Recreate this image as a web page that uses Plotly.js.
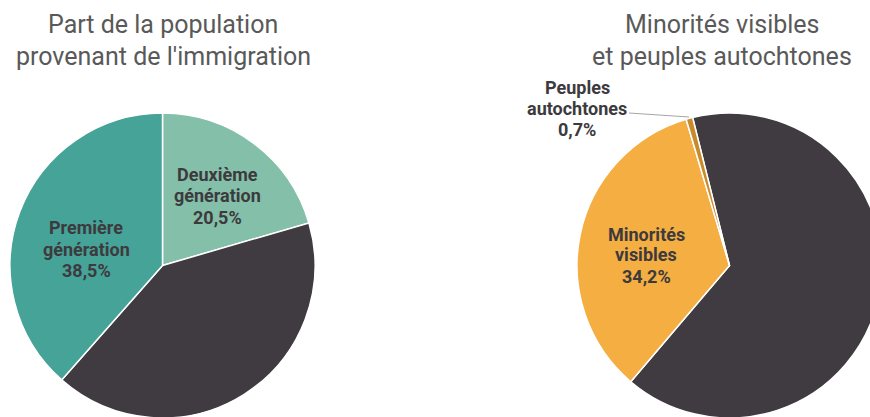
<!DOCTYPE html>
<html>
<head>
<meta charset="utf-8">
<script src="https://cdn.plot.ly/plotly-3.0.1.min.js"></script>
<style>
html,body{margin:0;padding:0;overflow:hidden;background:#fff;width:870px;height:417px;}
#chart{width:900px;height:430px;}
</style>
</head>
<body>
<div id="chart"></div>
<script>
// ---- Data ----
const immLabels = ["Deuxième génération", "Autres", "Première génération"];
const immValues = [20.5, 41.0, 38.5];
const immShowLabel = [true, false, true];

const minLabels = ["Autres", "Minorités visibles", "Peuples autochtones"];
const minValues = [65.1, 34.2, 0.7];
const minShowLabel = [false, true, true];

const titleLeft = ["Part de la population", "provenant de l'immigration"];
const titleRight = ["Minorités visibles", "et peuples autochtones"];

// ---- Styles / layout ----
const W = 900, H = 430;
const px = x => x / W;
const py = y => (H - y) / H;

const immColors = ["#83bfa9", "#3f3b40", "#46a398"];
const minColors = ["#3f3b40", "#f4ae42", "#c98a2a"];
const textColor = "#3d3a3e";
const labelFont = {family: "Roboto, 'Open Sans', sans-serif", size: 18, color: textColor, weight: 700};
const titleFont = {family: "Roboto, 'Open Sans', sans-serif", size: 25, color: "#595959"};

const fmt = v => v.toFixed(1).replace('.', ',') + '%';
const lblLines = (name, v) => name.split(' ').concat([fmt(v)]);

// label placement (pixels): centre of the middle line
const immPos = [[217, 196], null, [86, 249]];
const minPos = [null, [646, 255], [577, 108]];
const lineGap = 21;

const traces = [
  {
    type: 'pie', labels: immLabels, values: immValues, sort: false,
    direction: 'clockwise', rotation: 0,
    marker: {colors: immColors, line: {color: '#ffffff', width: 1.5}},
    textinfo: 'none', hoverinfo: 'label+percent', showlegend: false,
    domain: {x: [px(10), px(315)], y: [py(418), py(113)]}
  },
  {
    type: 'pie', labels: minLabels, values: minValues, sort: false,
    direction: 'clockwise', rotation: -14,
    marker: {colors: minColors, line: {color: '#ffffff', width: 1.5}},
    textinfo: 'none', hoverinfo: 'label+percent', showlegend: false,
    domain: {x: [px(577), px(882)], y: [py(418), py(113)]}
  }
];

const annotations = [];
function addLabel(lines, pos) {
  const n = lines.length;
  lines.forEach((t, k) => {
    annotations.push({xref: 'paper', yref: 'paper', x: px(pos[0]),
      y: py(pos[1] + (k - (n - 1) / 2) * lineGap),
      xanchor: 'center', yanchor: 'middle', showarrow: false,
      text: '<b>' + t + '</b>', font: labelFont});
  });
}
immLabels.forEach((n, i) => { if (immShowLabel[i]) addLabel(lblLines(n, immValues[i]), immPos[i]); });
minLabels.forEach((n, i) => { if (minShowLabel[i]) addLabel(lblLines(n, minValues[i]), minPos[i]); });

const titleY = [24, 57];
titleLeft.forEach((t, i) => annotations.push({xref: 'paper', yref: 'paper', x: px(163), y: py(titleY[i]),
  xanchor: 'center', yanchor: 'middle', showarrow: false, text: t, font: titleFont}));
titleRight.forEach((t, i) => annotations.push({xref: 'paper', yref: 'paper', x: px(722), y: py(titleY[i]),
  xanchor: 'center', yanchor: 'middle', showarrow: false, text: t, font: titleFont}));

const layout = {
  width: W, height: H,
  margin: {l: 0, r: 0, t: 0, b: 0},
  paper_bgcolor: '#ffffff', plot_bgcolor: '#ffffff',
  showlegend: false,
  annotations: annotations,
  shapes: [{type: 'line', xref: 'paper', yref: 'paper',
    x0: px(629), y0: py(113), x1: px(689), y1: py(117),
    line: {color: '#a6a6a6', width: 1}}]
};

Plotly.newPlot('chart', traces, layout, {displayModeBar: false, staticPlot: true});
</script>
</body>
</html>
